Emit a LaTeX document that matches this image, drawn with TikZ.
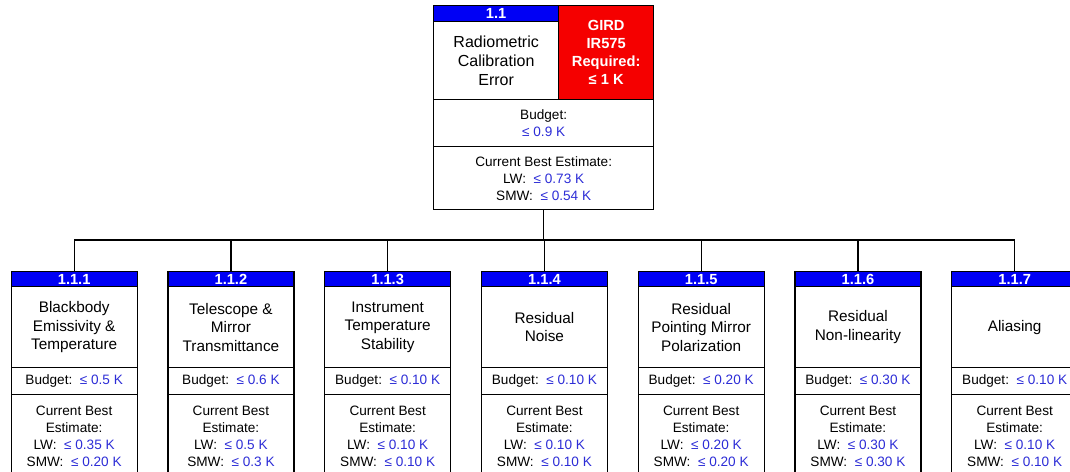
\documentclass[tikz,border=0pt]{standalone}
\usepackage{fontspec}
\setmainfont{Liberation Sans}
\definecolor{hdrblue}{RGB}{0,0,245}
\definecolor{valblue}{RGB}{45,45,215}
\definecolor{reqred}{RGB}{245,0,0}
\newcommand{\val}[1]{{\color{valblue}#1}}
\begin{document}
\begin{tikzpicture}[x=0.75pt,y=-0.75pt,
  cell/.style={draw=black, line width=1pt, inner sep=0pt, anchor=north west, align=center},
  sz/.style 2 args={minimum width=#1*0.75pt, minimum height=#2*0.75pt},
  hdr/.style={cell, fill=hdrblue, text=white, font=\fontsize{11}{12}\selectfont\bfseries},
  ttl/.style={cell, font=\fontsize{11.5}{13.8}\selectfont},
  bud/.style={cell, font=\fontsize{10.2}{12.5}\selectfont},
  cbe/.style={cell, font=\fontsize{10.2}{12.75}\selectfont},
  req/.style={cell, fill=reqred, text=white, font=\fontsize{11}{13.6}\selectfont\bfseries},
  conn/.style={draw=black, line width=1pt}]
\useasboundingbox (0,0) rectangle (1070,471);
\clip (0,0) rectangle (1070,471);
\fill[white] (0,0) rectangle (1070,471);
% top box
\node[ttl, sz={125}{78}, font=\fontsize{12}{14.25}\selectfont] (tt) at (433,21) {Radiometric\\Calibration\\Error};
\node[hdr, sz={125}{16}] (th) at (433,5) {1.1};
\node[req, sz={95}{94}] (tr) at (558,5) {GIRD\\IR575\\Required:\\≤ 1 K};
\node[bud, sz={220}{47}] (tb) at (433,99) {Budget:\\\val{≤ 0.9 K}};
\node[cbe, sz={220}{63}] (tc) at (433,146) {Current Best Estimate:\\LW:\ \ \val{≤ 0.73 K}\\SMW:\ \ \val{≤ 0.54 K}};
\coordinate (busy) at (0,240);
% children
\foreach \i/\ttext/\bval/\lw/\smw in {
  1/{Blackbody\\Emissivity \&\\Temperature}/0.5 K/0.35 K/0.20 K,
  2/{Telescope \&\\Mirror\\Transmittance}/0.6 K/0.5 K/0.3 K,
  3/{Instrument\\Temperature\\Stability}/0.10 K/0.10 K/0.10 K,
  4/{Residual\\Noise}/0.10 K/0.10 K/0.10 K,
  5/{Residual\\Pointing Mirror\\Polarization}/0.20 K/0.20 K/0.20 K,
  6/{Residual\\Non-linearity}/0.30 K/0.30 K/0.30 K,
  7/{Aliasing}/0.10 K/0.10 K/0.10 K}{
  \pgfmathsetmacro{\lx}{10.5+156.75*(\i-1)}
  \node[ttl, sz={126}{81}] (t\i) at (\lx,286) {\ttext};
  \node[hdr, sz={126}{15}] (h\i) at (\lx,271) {1.1.\i};
  \node[bud, sz={126}{27}] (b\i) at (\lx,367) {Budget:\ \ \val{≤ \bval}};
  \node[cbe, sz={126}{84}] (c\i) at (\lx,394) {Current Best\\Estimate:\\LW:\ \ \val{≤ \lw}\\SMW:\ \ \val{≤ \smw}};
  \draw[conn] (h\i.north) -- (h\i.north |- busy);
}
\draw[conn] (tc.south) -- (tc.south |- busy);
\draw[conn] (h1.north |- busy) -- (h7.north |- busy);
\end{tikzpicture}
\end{document}
